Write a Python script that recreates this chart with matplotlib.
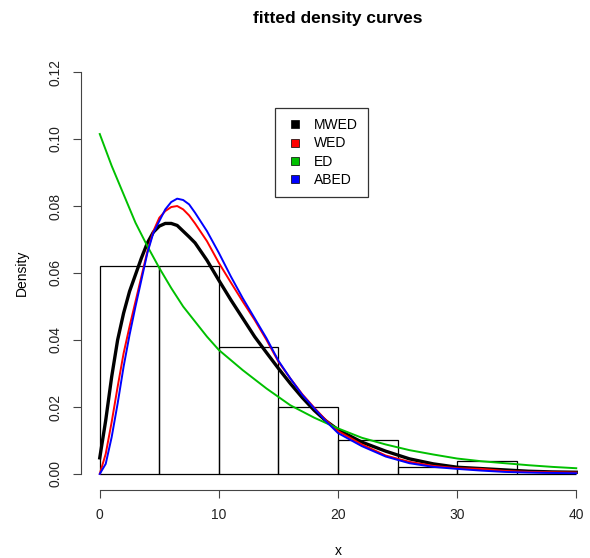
import matplotlib.pyplot as plt
from matplotlib.lines import Line2D

# histogram (density scale), bins of width 5
bin_edges = [0, 5, 10, 15, 20, 25, 30, 35, 40]
bin_density = [0.062, 0.062, 0.038, 0.020, 0.010, 0.002, 0.004, 0.0]

# fitted densities
mwed_x = [0, 0.5, 1, 1.5, 2, 2.5, 3, 3.5, 4, 4.5, 5, 5.5, 6, 6.5, 7, 7.5, 8, 9, 10,
          11, 12, 13, 14, 15, 16, 17, 18, 19, 20, 22, 24, 26, 28, 30, 32, 34, 36, 38, 40]
mwed_y = [0.0048, 0.016, 0.029, 0.040, 0.048, 0.0545, 0.0595, 0.0645, 0.069, 0.0722,
          0.0740, 0.0748, 0.0748, 0.0742, 0.0725, 0.0708, 0.069, 0.0638, 0.0578,
          0.052, 0.0465, 0.041, 0.0362, 0.0315, 0.027, 0.0228, 0.019, 0.0158, 0.0132,
          0.0095, 0.0068, 0.0045, 0.003, 0.002, 0.0016, 0.0012, 0.0008, 0.0006, 0.0005]

wed_x = mwed_x
wed_y = [0.0, 0.006, 0.0155, 0.026, 0.036, 0.044, 0.0515, 0.059, 0.0665, 0.0725,
         0.0765, 0.0785, 0.0797, 0.0800, 0.079, 0.0772, 0.0748, 0.0695, 0.063,
         0.0572, 0.0515, 0.046, 0.040, 0.0335, 0.0285, 0.0238, 0.0198, 0.016, 0.0128,
         0.0088, 0.0055, 0.0036, 0.0024, 0.0017, 0.0015, 0.0009, 0.0006, 0.0005, 0.0004]

abed_x = mwed_x
abed_y = [0.0, 0.003, 0.011, 0.021, 0.032, 0.0415, 0.050, 0.058, 0.066, 0.072,
          0.0755, 0.079, 0.0812, 0.0822, 0.0818, 0.0805, 0.078, 0.0725, 0.066,
          0.059, 0.0525, 0.0465, 0.0405, 0.0338, 0.0285, 0.0236, 0.0196, 0.0157, 0.0122,
          0.0083, 0.0052, 0.0032, 0.0021, 0.0015, 0.001, 0.0006, 0.0004, 0.0003, 0.0002]

ed_x = [0, 1, 2, 3, 4, 5, 6, 7, 8, 9, 10, 12, 14, 16, 18, 20, 22, 24, 26, 28, 30,
        32, 34, 36, 38, 40]
ed_y = [0.1015, 0.092, 0.0835, 0.0750, 0.068, 0.0615, 0.0555, 0.050, 0.0455, 0.041,
        0.037, 0.031, 0.0255, 0.0205, 0.0168, 0.0136, 0.0108, 0.0088, 0.0071, 0.0058,
        0.0046, 0.0038, 0.0032, 0.0026, 0.0021, 0.0017]

labels = ['MWED', 'WED', 'ED', 'ABED']
colors = ['black', 'red', '#00C000', 'blue']

plt.rcParams['font.family'] = ['Liberation Sans', 'DejaVu Sans']

fig = plt.figure(figsize=(5.9, 5.58), dpi=100)
# R style: plot region padded 4% beyond the data range, axes detached
ax = fig.add_axes([80.7 / 590, (558 - 490) / 558, 514.6 / 590, 434 / 558])

ax.hist(bin_edges[:-1], bins=bin_edges, weights=bin_density, histtype='bar',
        facecolor='none', edgecolor='black', linewidth=0.9)

ax.plot(mwed_x, mwed_y, color=colors[0], linewidth=2.4)
ax.plot(wed_x, wed_y, color=colors[1], linewidth=1.4)
ax.plot(ed_x, ed_y, color=colors[2], linewidth=1.4)
ax.plot(abed_x, abed_y, color=colors[3], linewidth=1.4)

ax.set_xlim(-1.6, 41.6)
ax.set_ylim(-0.0048, 0.1248)
ax.set_xticks([0, 10, 20, 30, 40])
ax.set_yticks([0.00, 0.02, 0.04, 0.06, 0.08, 0.10, 0.12])
ax.set_yticklabels(['0.00', '0.02', '0.04', '0.06', '0.08', '0.10', '0.12'],
                   rotation=90, va='center')
ax.tick_params(labelsize=10, length=6, width=0.8, colors='#444444', labelcolor='#222222', pad=7)

for side in ['top', 'right']:
    ax.spines[side].set_visible(False)
ax.spines['left'].set_bounds(0, 0.12)
ax.spines['bottom'].set_bounds(0, 40)
ax.spines['left'].set_color('#444444')
ax.spines['bottom'].set_color('#444444')

ax.set_xlabel('x', fontsize=10, labelpad=16)
ax.set_ylabel('Density', fontsize=10, labelpad=14)
fig.text(0.573, 0.966, 'fitted density curves', ha='center', va='center',
         fontsize=12.5, fontweight='bold')

handles = [Line2D([], [], linestyle='none', marker='s', markersize=6,
                  markerfacecolor=c, markeredgecolor='black', markeredgewidth=0.5)
           for c in colors]
leg = fig.legend(handles, labels, loc='upper left', bbox_to_anchor=(274.7 / 590, 1 - 108.3 / 558),
                 fontsize=10, frameon=True, fancybox=False, edgecolor='black',
                 handlelength=1.54, handletextpad=0.58,
                 labelspacing=0.3, borderpad=0.72, borderaxespad=0)
leg.get_frame().set_linewidth(0.9)

plt.savefig('out.png', dpi=100)
